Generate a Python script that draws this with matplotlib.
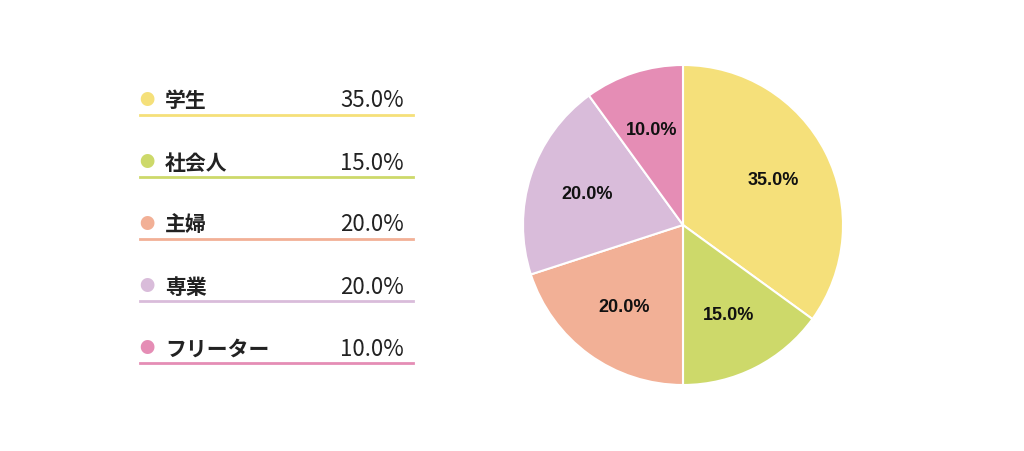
import matplotlib
matplotlib.use("Agg")
import matplotlib.pyplot as plt

categories = ["学生", "社会人", "主婦", "専業", "フリーター"]
values = [35.0, 15.0, 20.0, 20.0, 10.0]
colors = ["#F5E07A", "#CDD96A", "#F2B096", "#D9BCDA", "#E58DB5"]

plt.rcParams['font.family'] = ['Noto Sans CJK JP', 'DejaVu Sans']
W, H = 1024, 452
fig = plt.figure(figsize=(W/100, H/100), dpi=100)

ax = fig.add_axes([483/W, 26/H, 400/W, 400/H])
wedges, texts, autotexts = ax.pie(values, colors=colors, startangle=90, counterclock=False,
                                  autopct='%.1f%%', pctdistance=0.63,
                                  wedgeprops=dict(linewidth=1.5, edgecolor='white'),
                                  textprops=dict(fontsize=13, fontweight='bold', family='Liberation Sans', color='#111111'))
ax.set_aspect('equal')

for i, (c, v, col) in enumerate(zip(categories, values, colors)):
    y = 101 + 62 * i
    fig.text(147/W, 1 - y/H, "●", color=col, fontsize=11, ha='center', va='center')
    fig.text(165/W, 1 - y/H, c, fontsize=15, fontweight='bold', ha='left', va='center', color='#222222')
    fig.text(404/W, 1 - y/H, f"{v:.1f}%", fontsize=16, ha='right', va='center', color='#222222')
    ly = 1 - (y + 15)/H
    fig.add_artist(plt.Line2D([140/W, 413/W], [ly, ly], color=col, linewidth=2))

fig.savefig("out.png", dpi=100, facecolor='white')
